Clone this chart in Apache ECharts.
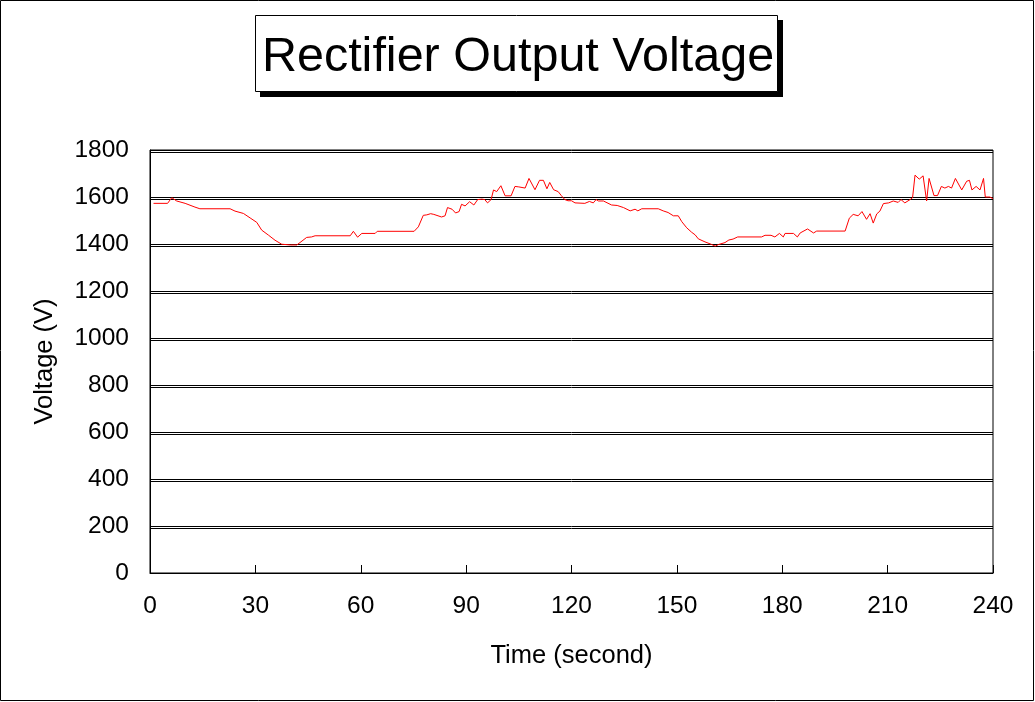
<!DOCTYPE html>
<html>
<head>
<meta charset="utf-8">
<script src="https://cdn.jsdelivr.net/npm/echarts@6/dist/echarts.min.js"></script>
<style>
html,body{margin:0;padding:0;background:#fff;}
#c{width:1035px;height:702px;}
</style>
</head>
<body>
<div id="c"></div>
<script>
var titleText = 'Rectifier Output Voltage';
var xName = 'Time (second)';
var yName = 'Voltage (V)';
var xTicks = [0, 30, 60, 90, 120, 150, 180, 210, 240];
var yTicks = [0, 200, 400, 600, 800, 1000, 1200, 1400, 1600, 1800];

var times = [1, 5, 6.2, 7.6, 10, 12.8, 14.2, 22.8, 24.2, 26.6, 28.5, 30.4, 31.8, 33.7, 35.6, 37.5, 40, 41.8, 42.7, 44.6, 46, 47, 57, 57.9, 59.1, 60.3, 64.1, 64.7, 75.2, 76.4, 77.8, 78.8, 79.9, 80.8,
 83, 84, 84.7, 86, 87, 88, 88.7, 89.7, 91, 92.2, 93.3, 94.5, 95.3, 96.1, 97.1, 97.8, 98.7, 99.9, 101.1, 102.8, 103.9, 105, 106.8, 107.9, 109.6, 110.9, 112, 113, 113.8, 114.9, 116.2, 117.1, 118.1, 119, 120, 121,
 123.8, 125.1, 126.2, 127, 127.7, 129.1, 131.4, 133, 134.8, 136.7, 138.1, 138.9, 140, 144.7, 146.1, 147.5, 149, 150.4, 151.4, 152.8, 154.2, 155.2, 156.1, 158, 159.9, 160.9, 161.9, 163.7,
 164.8, 166, 167.3, 174.1, 175.1, 176.8, 177.9, 179.2, 180.3, 180.8, 183.2, 184.3, 185.1, 187.2, 188.9, 189.8, 197.9, 199.1, 200.2, 201.6, 202.7, 204, 205,
 205.9, 206.9, 207.8, 208.8, 210.3, 211.6, 213, 213.8, 214.9, 216.4, 217.1, 217.8, 219, 220.1, 221.1, 221.8, 223.2, 224.2, 225.3, 226.3, 227.3, 228.2, 229.3, 231.1, 232.5, 233.3, 234, 235.2, 236.3, 237.3, 237.8, 239.1, 240];

var volts = [1573, 1573, 1597, 1583, 1573, 1557, 1550, 1550, 1540, 1530, 1511, 1492, 1459, 1438, 1416, 1399, 1396, 1396, 1406, 1428, 1430, 1435, 1435, 1454, 1429, 1445, 1445, 1454, 1454, 1473, 1522, 1524, 1529, 1526,
 1515, 1520, 1555, 1548, 1532, 1538, 1569, 1562, 1580, 1566, 1589, 1591, 1589, 1575, 1589, 1630, 1623, 1648, 1605, 1605, 1645, 1643, 1638, 1679, 1631, 1671, 1671, 1635, 1662, 1631, 1623, 1606, 1589, 1584, 1584, 1575,
 1573, 1581, 1575, 1589, 1583, 1583, 1566, 1564, 1555, 1541, 1548, 1541, 1550, 1550, 1541, 1534, 1520, 1520, 1495, 1469, 1450, 1439, 1422, 1409, 1398, 1391, 1398, 1406,
 1417, 1421, 1430, 1430, 1437, 1437, 1430, 1445, 1430, 1445, 1445, 1430, 1447, 1464, 1447, 1455, 1455, 1510, 1526, 1520, 1538, 1505, 1529,
 1489, 1528, 1540, 1572, 1575, 1583, 1577, 1589, 1575, 1589, 1597, 1693, 1676, 1690, 1583, 1679, 1606, 1606, 1645, 1638, 1645, 1638, 1679, 1630, 1667, 1671, 1630, 1645, 1630, 1679, 1600, 1600, 1593];

var seriesData = times.map(function (t, i) { return [t, volts[i]]; });

var FONT = '"Liberation Sans", Arial, sans-serif';
var chart = echarts.init(document.getElementById('c'), null, {renderer: 'canvas'});

var gridTop = 150, gridBottomPx = 573, gridLeft = 150, gridRightPx = 993;
function plain(v) { return String(v); }

chart.setOption({
  animation: false,
  backgroundColor: '#ffffff',
  grid: [
    {left: gridLeft, top: gridTop, width: gridRightPx - gridLeft, height: gridBottomPx - gridTop,
     show: true, borderColor: '#000', borderWidth: 1, backgroundColor: 'transparent', z: 2},
    {left: gridLeft, top: gridTop + 2, width: gridRightPx - gridLeft, height: (gridBottomPx - gridTop) * 1600 / 1800,
     show: false}
  ],
  xAxis: [
    {type: 'value', gridIndex: 0, min: xTicks[0], max: xTicks[xTicks.length - 1], interval: 30,
     name: xName, nameLocation: 'middle', nameGap: 70,
     nameTextStyle: {fontFamily: FONT, fontSize: 25.5, color: '#000'},
     axisLine: {show: true, lineStyle: {color: '#000', width: 1}},
     axisTick: {show: true, inside: true, length: 8, lineStyle: {color: '#000'}},
     axisLabel: {fontFamily: FONT, fontSize: 24.5, color: '#000', margin: 21, formatter: plain},
     splitLine: {show: false}},
    {type: 'value', gridIndex: 1, min: 0, max: 240, show: false, splitLine: {show: false}}
  ],
  yAxis: [
    {type: 'value', gridIndex: 0, min: yTicks[0], max: yTicks[yTicks.length - 1], interval: 200,
     name: yName, nameLocation: 'middle', nameGap: 92, nameRotate: 90,
     nameTextStyle: {fontFamily: FONT, fontSize: 25.5, color: '#000'},
     axisLine: {show: true, lineStyle: {color: '#000', width: 1}},
     axisTick: {show: false},
     axisLabel: {fontFamily: FONT, fontSize: 24.5, color: '#000', margin: 21, formatter: plain},
     splitLine: {show: true, lineStyle: {color: '#000', width: 1}}},
    {type: 'value', gridIndex: 1, min: 200, max: 1800, interval: 200,
     axisLine: {show: false}, axisTick: {show: false}, axisLabel: {show: false},
     splitLine: {show: true, lineStyle: {color: '#000', width: 1}}}
  ],
  series: [
    {type: 'line', xAxisIndex: 0, yAxisIndex: 0, data: seriesData, showSymbol: false, symbol: 'none',
     lineStyle: {color: '#ff0000', width: 1}, z: 5}
  ],
  graphic: [
    {type: 'rect', shape: {x: 0.5, y: 0.5, width: 1033, height: 700}, style: {fill: 'none', stroke: '#000', lineWidth: 1}, z: 100},
    {type: 'rect', shape: {x: 260, y: 20, width: 523, height: 77}, style: {fill: '#000'}, z: 100},
    {type: 'rect', shape: {x: 255.5, y: 15.5, width: 522, height: 76}, style: {fill: '#fff', stroke: '#000', lineWidth: 1}, z: 101},
    {type: 'text', x: 518, y: 58, z: 102,
     style: {text: titleText, font: '48.5px ' + FONT, fill: '#000', align: 'center', verticalAlign: 'middle'}}
  ]
});
</script>
</body>
</html>
